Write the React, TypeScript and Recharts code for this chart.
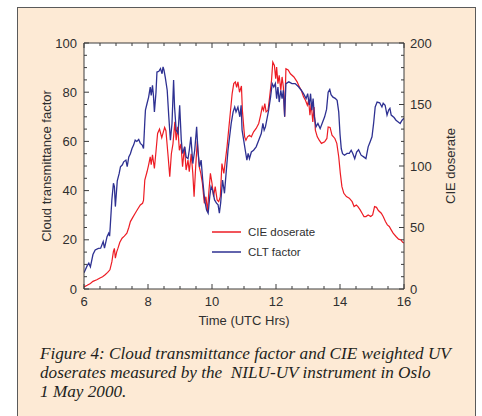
import { Legend, Line, LineChart, CartesianGrid, XAxis, YAxis } from 'recharts'

// Cloud transmittance (CLT) factor, left axis 0-100
const cltHours = [
  6.0, 6.1, 6.15, 6.2, 6.28, 6.35, 6.45, 6.52, 6.6, 6.64, 6.72, 6.77, 6.8, 6.82, 6.87, 6.92, 6.95,
  6.98, 7.04, 7.1, 7.14, 7.2, 7.24, 7.31, 7.35, 7.4, 7.45, 7.5, 7.55, 7.6, 7.65, 7.71, 7.76, 7.82,
  7.86, 7.9, 7.92, 7.97, 8.02, 8.07, 8.1, 8.14, 8.17, 8.2, 8.25, 8.28, 8.34, 8.39, 8.44, 8.47,
  8.5, 8.54, 8.6, 8.65, 8.7, 8.75, 8.8, 8.83, 8.88, 8.94, 8.99, 9.04, 9.08, 9.15, 9.19, 9.25, 9.29,
  9.34, 9.4, 9.46, 9.52, 9.56, 9.61, 9.66, 9.71, 9.77, 9.83, 9.88, 9.93, 9.97, 10.02, 10.08, 10.14,
  10.19, 10.23, 10.27, 10.33, 10.39, 10.44, 10.5, 10.55, 10.6, 10.66, 10.71, 10.75, 10.81, 10.87,
  10.91, 10.94, 10.99, 11.04, 11.09, 11.13, 11.17, 11.23, 11.3, 11.38, 11.46, 11.54, 11.59, 11.63,
  11.67, 11.73, 11.77, 11.83, 11.88, 11.93, 11.98, 12.02, 12.06, 12.1, 12.15, 12.19, 12.23, 12.27,
  12.31, 12.4, 12.5, 12.6, 12.71, 12.79, 12.86, 12.94, 12.99, 13.04, 13.08, 13.12, 13.16, 13.2,
  13.25, 13.31, 13.38, 13.44, 13.52, 13.58, 13.63, 13.68, 13.72, 13.78, 13.85, 13.91, 13.96, 14.0,
  14.04, 14.08, 14.14, 14.22, 14.29, 14.35, 14.4, 14.46, 14.52, 14.58, 14.66, 14.74, 14.81, 14.88,
  14.94, 15.0, 15.05, 15.1, 15.16, 15.24, 15.31, 15.35, 15.41, 15.47, 15.52, 15.56, 15.6, 15.69,
  15.75, 15.81, 15.88, 15.94, 16.0,
]
const cltFactor = [
  6.6, 9.5, 10.5, 9, 14, 15.9, 16.5, 16.6, 19.3, 16.6, 21.3, 22.7, 21.5, 25.4, 36.2, 43, 41.6,
  33.5, 44, 47, 49.7, 50.5, 51.7, 52.4, 49.7, 53.7, 55, 57.1, 58.5, 60.5, 60, 60.8, 59.2, 58.5,
  57.1, 68, 72.7, 75.4, 78, 82.1, 78.7, 82.8, 78.7, 72, 80, 88.2, 88.5, 89.6, 87.5, 90.3,
  89, 86, 80.8, 70, 60.5, 67.3, 84.9, 74, 64.6, 63.2, 74.7, 60.5, 55.1, 57.8, 53.7, 53, 56.4,
  61.9, 51, 56.4, 65.9, 56.4, 49.7, 52.4, 44.3, 36.2, 32.1, 30.8, 37.6, 41.6, 40.2, 36.2, 34.9,
  34.2, 30.8, 34.9, 44.3, 38.9, 47, 56.4, 61.9, 67.3, 72, 74, 72, 74, 70,
  74.7, 64.6, 60.5, 56.4, 52.4, 55.1, 53, 55.7, 56.4, 57.8, 60.5, 63.2, 67.3, 64.6,
  65.9, 70, 72.7, 78, 83.5, 82.1, 83.5, 77.4, 82.1, 76, 80.8, 77.4, 80.8, 70,
  83.5, 84.2, 83.5, 83.5, 82.1, 80.8, 79.4, 77.4, 79.4, 74.7, 79.4, 72.7, 77.4, 70,
  65.9, 67.3, 65.2, 67.3, 70, 73, 80, 81.1, 79, 78, 77.5, 76.7, 72, 63,
  57, 55, 54.4, 55.1, 55.1, 56.4, 55.1, 53, 55.7, 56.6, 54.4, 53.7, 53, 57.8,
  59.8, 61.9, 67.3, 74, 76, 75.7, 74, 75.5, 74.7, 70.7, 72.7, 73.4, 70.7, 69.7,
  68.6, 68, 67.3, 68.6, 69.4,
]

// CIE weighted UV doserate, right axis 0-200
const cieHours = [
  6.0, 6.1, 6.2, 6.28, 6.4, 6.5, 6.58, 6.66, 6.74, 6.81, 6.87, 6.92, 6.95, 6.98, 7.02, 7.06, 7.12,
  7.19, 7.26, 7.34, 7.4, 7.45, 7.52, 7.6, 7.68, 7.76, 7.83, 7.86, 7.9, 7.97, 8.02, 8.07, 8.1, 8.14,
  8.2, 8.25, 8.3, 8.36, 8.43, 8.52, 8.56, 8.63, 8.68, 8.73, 8.78, 8.84, 8.88, 8.93, 8.98, 9.03,
  9.08, 9.14, 9.19, 9.25, 9.29, 9.35, 9.4, 9.44, 9.49, 9.54, 9.6, 9.65, 9.7, 9.76, 9.81, 9.86, 9.9,
  9.95, 10.0, 10.05, 10.1, 10.16, 10.21, 10.26, 10.31, 10.37, 10.42, 10.47, 10.52, 10.57, 10.63,
  10.68, 10.73, 10.77, 10.81, 10.86, 10.92, 10.95, 11.0, 11.02, 11.06, 11.11, 11.17, 11.23, 11.3,
  11.38, 11.46, 11.52, 11.57, 11.61, 11.65, 11.69, 11.75, 11.79, 11.86, 11.9, 11.95, 11.99, 12.02,
  12.06, 12.1, 12.15, 12.19, 12.23, 12.27, 12.31, 12.38, 12.45, 12.56, 12.66, 12.73, 12.79, 12.86,
  12.92, 12.98, 13.02, 13.06, 13.1, 13.15, 13.19, 13.23, 13.29, 13.35, 13.42, 13.52, 13.59, 13.63,
  13.69, 13.75, 13.84, 13.9, 13.96, 14.01, 14.06, 14.12, 14.2, 14.29, 14.38, 14.44, 14.51, 14.56,
  14.63, 14.69, 14.75, 14.81, 14.88, 14.96, 15.02, 15.08, 15.14, 15.2, 15.29, 15.35, 15.42, 15.48,
  15.54, 15.6, 15.66, 15.75, 15.83, 15.9, 15.96, 16.0,
]
const cieDoserate = [
  1.6, 3, 4.5, 6.2, 7.5, 9, 10, 11.6, 13.5, 15.6, 22, 30.5, 33, 25, 30, 33, 38,
  41.3, 43, 45.4, 50, 54.8, 58, 61.6, 65, 68.3, 69.7, 72, 88.6, 95.3, 101, 107.5, 101, 109,
  98, 112, 126.5, 130, 123, 131.4, 128.7, 107.5, 91.3, 110, 118, 135.9, 121, 131.8, 112.8, 118,
  99.4, 115.6, 96.7, 104.8, 95.4, 110, 94, 75, 99.4, 120, 99.4, 94, 86, 69.7, 75, 63, 78.5,
  94, 86, 75, 83.2, 72.4, 71, 75, 102, 94, 104.8, 115.6, 129.2, 142.7, 158.9,
  167, 168.4, 164, 168.4, 160, 165, 145, 129.2, 123.7, 121, 123.7, 125, 123.7, 127.8,
  130.5, 134.6, 141.4, 148, 145.3, 150.8, 144, 145.3, 153.5, 169.7, 184.5, 181.8, 171, 180.5,
  167, 173.8, 161.6, 172.4, 164.3, 140, 179, 178, 175, 172.4, 168.4, 164.3, 161.6, 156.2,
  153.5, 149.4, 153.5, 141.4, 150.8, 135.9, 148, 129.2, 123.7, 121, 118.4, 119.7, 122.4, 131.8,
  131.4, 125, 122.4, 118.4, 107.5, 94, 83.2, 77.8, 75.1, 73.8, 71, 67, 68.3, 67,
  64.3, 61.6, 58.9, 58.9, 60.2, 58.9, 60.2, 67, 66.4, 63.8, 61.6, 58.9, 54.8, 52.1,
  50.8, 48.1, 45.4, 42.7, 40.5, 40, 38, 37.5,
]

const hourTicks = [6, 6.5, 7, 7.5, 8, 8.5, 9, 9.5, 10, 10.5, 11, 11.5, 12, 12.5, 13, 13.5, 14, 14.5, 15, 15.5, 16]
const hourLabels = [6, 8, 10, 12, 14, 16]
const factorTicks = [0, 5, 10, 15, 20, 25, 30, 35, 40, 45, 50, 55, 60, 65, 70, 75, 80, 85, 90, 95, 100]
const factorLabels = [0, 20, 40, 60, 80, 100]
const doseTicks = [0, 10, 20, 30, 40, 50, 60, 70, 80, 90, 100, 110, 120, 130, 140, 150, 160, 170, 180, 190, 200]
const doseLabels = [0, 50, 100, 150, 200]

const cltData = cltHours.map((t, i) => ({ t, v: cltFactor[i] }))
const cieData = cieHours.map((t, i) => ({ t, v: cieDoserate[i] }))

const INK = '#2f2f2f'
const AXIS = '#3c3c3c'
const BLUE = '#2e3192'
const RED = '#ed1c24'
const FONT = '"Liberation Sans", Arial, sans-serif'

function BottomTick({ x, y, payload }: any) {
  const major = hourLabels.includes(payload.value)
  return (
    <g>
      <line x1={x} x2={x} y1={289} y2={289 - (major ? 5 : 3)} stroke={AXIS} />
      {major && (
        <text x={x} y={y + 17} textAnchor="middle" fill={INK} fontSize={13} fontFamily={FONT}>
          {payload.value}
        </text>
      )}
    </g>
  )
}

function TopTick({ x, y, payload }: any) {
  const major = hourLabels.includes(payload.value)
  return <line x1={x} x2={x} y1={y} y2={y + (major ? 5 : 3)} stroke={AXIS} />
}

function LeftTick({ x, y, payload }: any) {
  const major = factorLabels.includes(payload.value)
  return (
    <g>
      <line x1={x} x2={x + (major ? 5 : 3)} y1={y} y2={y} stroke={AXIS} />
      {major && (
        <text x={x - 7} y={y + 4.5} textAnchor="end" fill={INK} fontSize={13} fontFamily={FONT}>
          {payload.value}
        </text>
      )}
    </g>
  )
}

function RightTick({ x, y, payload }: any) {
  const major = doseLabels.includes(payload.value)
  return (
    <g>
      <line x1={x} x2={x - (major ? 5 : 3)} y1={y} y2={y} stroke={AXIS} />
      {major && (
        <text x={x + 6} y={y + 4.5} textAnchor="start" fill={INK} fontSize={13} fontFamily={FONT}>
          {payload.value}
        </text>
      )}
    </g>
  )
}

function LegendBox({ payload }: any) {
  const items = [...(payload ?? [])].sort((a: any) => (a.value === 'CIE doserate' ? -1 : 1))
  return (
    <div style={{ fontFamily: FONT, fontSize: 11.5, color: INK }}>
      {items.map((item: any) => (
        <div key={item.value} style={{ display: 'flex', alignItems: 'center', height: 20 }}>
          <svg width={36} height={6}>
            <line x1={0} x2={29} y1={3} y2={3} stroke={item.color} strokeWidth={1.5} />
          </svg>
          <span>{item.value}</span>
        </div>
      ))}
    </div>
  )
}

export default function App() {
  return (
    <div style={{ position: 'fixed', left: 0, top: 0, width: 482, height: 416, overflow: 'hidden' }}>
      <div
        style={{
          position: 'absolute',
          left: 17,
          top: 7,
          width: 457,
          height: 430,
          background: '#fdead5',
          border: '1px solid #5a5a5a',
        }}
      />
      <div style={{ position: 'absolute', left: 0, top: 0 }}>
        <LineChart width={482} height={416} margin={{ top: 42, right: 77, bottom: 126, left: 83 }}>
          <CartesianGrid horizontal={false} vertical={false} fill="#ffffff" />
          <XAxis
            dataKey="t"
            type="number"
            domain={[6, 16]}
            ticks={hourTicks}
            interval={0}
            height={1}
            tickSize={0}
            tickMargin={0}
            tick={<BottomTick />}
            axisLine={{ stroke: AXIS }}
            allowDataOverflow
          />
          <XAxis
            xAxisId="top"
            orientation="top"
            dataKey="t"
            type="number"
            domain={[6, 16]}
            ticks={hourTicks}
            interval={0}
            height={1}
            tickSize={0}
            tickMargin={0}
            tick={<TopTick />}
            axisLine={{ stroke: AXIS }}
            allowDataOverflow
          />
          <YAxis
            yAxisId="left"
            type="number"
            domain={[0, 100]}
            ticks={factorTicks}
            interval={0}
            width={1}
            tickSize={0}
            tickMargin={0}
            tick={<LeftTick />}
            axisLine={{ stroke: AXIS }}
          />
          <YAxis
            yAxisId="right"
            orientation="right"
            type="number"
            domain={[0, 200]}
            ticks={doseTicks}
            interval={0}
            width={1}
            tickSize={0}
            tickMargin={0}
            tick={<RightTick />}
            axisLine={{ stroke: AXIS }}
          />
          <Legend
            layout="vertical"
            align="center"
            verticalAlign="middle"
            content={<LegendBox />}
            wrapperStyle={{ left: 212, top: 222, width: 130, height: 40 }}
          />
          <Line
            name="CIE doserate"
            data={cieData}
            dataKey="v"
            yAxisId="right"
            stroke={RED}
            strokeWidth={1.2}
            dot={false}
            isAnimationActive={false}
          />
          <Line
            name="CLT factor"
            data={cltData}
            dataKey="v"
            yAxisId="left"
            stroke={BLUE}
            strokeWidth={1.3}
            dot={false}
            isAnimationActive={false}
          />
        </LineChart>
      </div>
      <div
        style={{
          position: 'absolute',
          left: 84,
          width: 320,
          top: 313,
          textAlign: 'center',
          fontFamily: FONT,
          fontSize: 13,
          color: INK,
        }}
      >
        Time (UTC Hrs)
      </div>
      <div
        style={{
          position: 'absolute',
          left: 46,
          top: 166,
          transform: 'translate(-50%, -50%) rotate(-90deg)',
          whiteSpace: 'nowrap',
          fontFamily: FONT,
          fontSize: 13,
          color: INK,
        }}
      >
        Cloud transmittance factor
      </div>
      <div
        style={{
          position: 'absolute',
          left: 450,
          top: 166,
          transform: 'translate(-50%, -50%) rotate(-90deg)',
          whiteSpace: 'nowrap',
          fontFamily: FONT,
          fontSize: 13,
          color: INK,
        }}
      >
        CIE doserate
      </div>
      <div
        style={{
          position: 'absolute',
          left: 40,
          top: 344,
          fontFamily: '"Liberation Serif", "Times New Roman", serif',
          fontStyle: 'italic',
          fontSize: 17.2,
          lineHeight: '19px',
          color: '#231f20',
          whiteSpace: 'nowrap',
        }}
      >
        Figure 4: Cloud transmittance factor and CIE weighted UV
        <br />
        doserates measured by the&nbsp; NILU-UV instrument in Oslo
        <br />1 May 2000.
      </div>
    </div>
  )
}
